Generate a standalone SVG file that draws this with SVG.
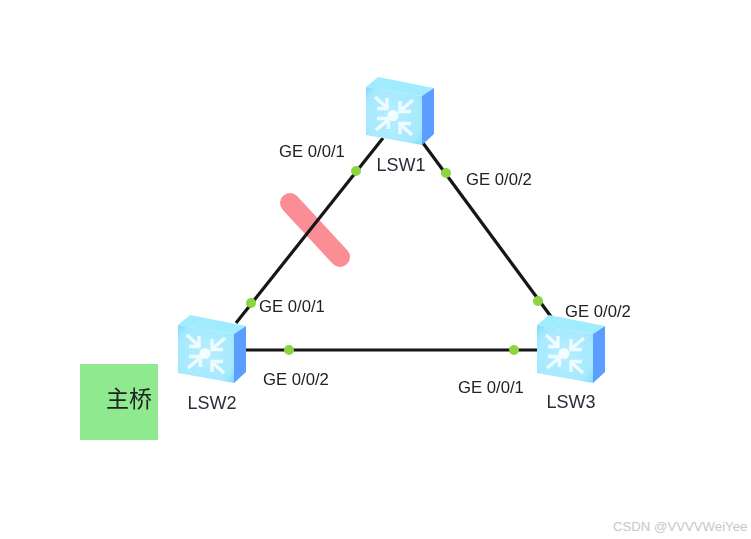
<svg xmlns="http://www.w3.org/2000/svg" width="751" height="539" viewBox="0 0 751 539">
<style>
text{font-family:"Liberation Sans","Noto Sans CJK SC",sans-serif;fill:#222}
.port{font-size:16.7px}
.name{font-size:18px;fill:#2c2c3a;text-anchor:middle}
.link{stroke:#151515;stroke-width:3.2;fill:none}
.dot{fill:#8ad53f}
.ar{fill:none;stroke:#eefcff;stroke-width:3.4}
</style>
<defs>
<filter id="soft" x="-5%" y="-5%" width="110%" height="110%"><feGaussianBlur stdDeviation="0.45"/></filter>
<radialGradient id="front" cx="0.5" cy="0.5" r="0.7"><stop offset="0" stop-color="#b4eeff"/><stop offset="0.75" stop-color="#a6e9ff"/><stop offset="1" stop-color="#7edcfb"/></radialGradient>
<g id="sw">
<path d="M0 10L12 0L68 11L56 19Z" fill="#a0ecff"/>
<path d="M56 19L68 11V57L56 68Z" fill="#5c9eff"/>
<path d="M0 10L56 19V68L0 58Z" fill="url(#front)"/>
<circle cx="27" cy="38.500" r="5.500" fill="#f4feff"/>
<g class="ar">
<path d="M9 20L21 31M21 21V31.500H11"/>
<path d="M47 23L34 34M34 24V34.500H45"/>
<path d="M10 53L22 43M11 41.500H22.500V52"/>
<path d="M46 58L34 47M34 57V46.500H45"/>
</g>
</g>
</defs>
<rect width="751" height="539" fill="#fff"/>
<g filter="url(#soft)">
<g id="blocked"><path d="M290 203L340 257" stroke="#fb8d95" stroke-width="20" stroke-linecap="round" fill="none"/></g>
<g id="connectors">
<path class="link" d="M383 138L236 323"/>
<path class="link" d="M423 143L552 318"/>
<path class="link" d="M245 350H537"/>
</g>
<g id="LSW1"><use href="#sw" x="366" y="77"/><text class="name" x="401" y="171">LSW1</text></g>
<g id="LSW2"><use href="#sw" x="178" y="315"/><text class="name" x="212" y="409">LSW2</text></g>
<g id="LSW3"><use href="#sw" x="537" y="315"/><text class="name" x="571" y="408">LSW3</text></g>
<g id="ports">
<circle class="dot" cx="356" cy="171" r="5"/>
<circle class="dot" cx="446" cy="173" r="5"/>
<circle class="dot" cx="251" cy="303" r="5"/>
<circle class="dot" cx="538" cy="301" r="5"/>
<circle class="dot" cx="289" cy="350" r="5"/>
<circle class="dot" cx="514" cy="350" r="5"/>
<text class="port" x="279" y="157">GE 0/0/1</text>
<text class="port" x="466" y="185">GE 0/0/2</text>
<text class="port" x="259" y="312">GE 0/0/1</text>
<text class="port" x="565" y="317">GE 0/0/2</text>
<text class="port" x="263" y="385">GE 0/0/2</text>
<text class="port" x="458" y="393">GE 0/0/1</text>
</g>
<g id="root-bridge">
<rect x="80" y="364" width="78" height="76" fill="#8fe98f"/>
<text x="106" y="407" font-size="23">主桥</text>
</g>
</g>
<text x="613" y="531" font-size="13.200" style="fill:#c8c8c8">CSDN @VVVVWeiYee</text>
</svg>
